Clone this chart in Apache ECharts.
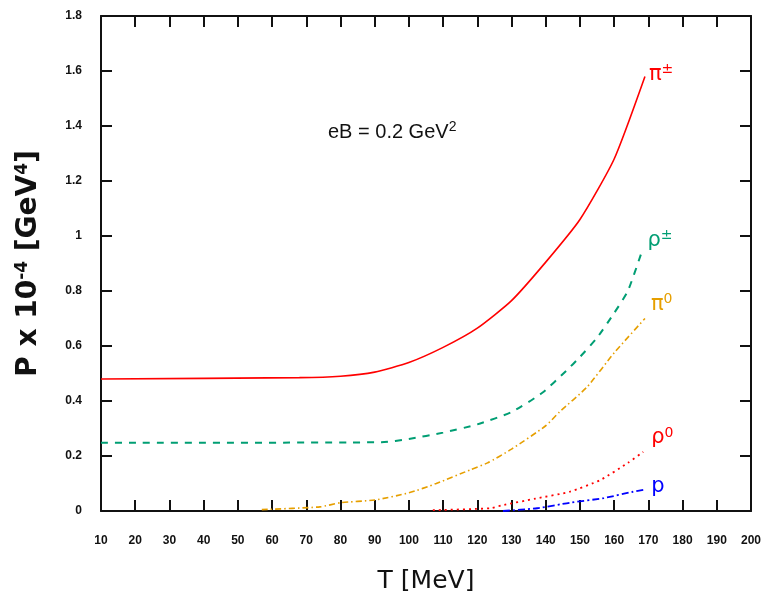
<!DOCTYPE html>
<html>
<head>
<meta charset="utf-8">
<script src="https://cdn.jsdelivr.net/npm/echarts@6/dist/echarts.min.js"></script>
<style>
  html, body { margin: 0; padding: 0; background: #fff; }
  #main { width: 768px; height: 599px; }
</style>
</head>
<body>
<div id="main"></div>
<script>
// T [MeV] and pressure values
var piCT  = [10, 68, 80, 90, 100, 110, 120, 130, 140, 150, 160, 169];
var piCP  = [0.48, 0.485, 0.49, 0.505, 0.54, 0.595, 0.665, 0.765, 0.905, 1.06, 1.28, 1.58];

var rhoCT = [10, 92, 100, 110, 120, 130, 139, 146, 150, 155, 160, 164, 168];
var rhoCP = [0.248, 0.25, 0.262, 0.285, 0.315, 0.36, 0.43, 0.51, 0.56, 0.63, 0.72, 0.80, 0.94];

var pi0T  = [57, 74, 80, 90, 100, 108, 118, 123, 130, 140, 144, 152, 160, 169];
var pi0P  = [0.005, 0.015, 0.03, 0.04, 0.066, 0.1, 0.15, 0.175, 0.225, 0.31, 0.36, 0.45, 0.575, 0.70];

var rho0T = [107, 124, 127, 137, 147, 156, 164, 168.5];
var rho0P = [0.003, 0.01, 0.02, 0.045, 0.07, 0.113, 0.175, 0.215];

var protT = [127.5, 137.5, 147, 157, 165.5, 168.5];
var protP = [0, 0.01, 0.03, 0.047, 0.07, 0.077];

function pairs(t, p) {
    return t.map(function (v, i) { return [v, p[i]]; });
}

var chartDom = document.getElementById('main');
var myChart = echarts.init(chartDom);

var tickFont = { fontFamily: 'Liberation Sans', fontWeight: 'bold', fontSize: 12, color: '#111' };
var supStyle = function (c) {
    return { fontFamily: 'DejaVu Sans', fontSize: 14, color: c, verticalAlign: 'top', padding: [0, 0, 10, 0] };
};
var lblStyle = function (c) {
    return { fontFamily: 'DejaVu Sans', fontSize: 21, color: c };
};

function endLbl(main, sup, color, off) {
    return {
        show: true,
        distance: 4,
        offset: off,
        formatter: '{m|' + main + '}{s|' + sup + '}',
        rich: { m: lblStyle(color), s: supStyle(color) }
    };
}

function axisBase(show) {
    return {
        type: 'value',
        axisLine: { show: true, onZero: false, lineStyle: { color: '#111', width: 2 } },
        axisTick: { show: true, inside: true, length: 11, lineStyle: { color: '#111', width: 2 } },
        splitLine: { show: false },
        axisLabel: Object.assign({ show: show }, tickFont)
    };
}

var xBottom = Object.assign(axisBase(true), {
    min: 10, max: 200, interval: 10, position: 'bottom',
    name: 'T [MeV]', nameLocation: 'middle', nameGap: 58,
    nameTextStyle: { fontFamily: 'DejaVu Sans', fontSize: 25, color: '#111' }
});
xBottom.axisLabel.margin = 24;
var xTop = Object.assign(axisBase(false), { min: 10, max: 200, interval: 10, position: 'top' });

var yLeft = Object.assign(axisBase(true), {
    min: 0, max: 1.8, interval: 0.2, position: 'left',
    name: 'P x 10{s|-4} [GeV{s|4}]', nameLocation: 'middle', nameGap: 58, nameRotate: 90,
    nameTextStyle: {
        fontFamily: 'DejaVu Sans', fontWeight: 'bold', fontSize: 28, color: '#111',
        rich: { s: { fontFamily: 'DejaVu Sans', fontWeight: 'bold', fontSize: 17, color: '#111', verticalAlign: 'top', padding: [0, 0, 12, 0] } }
    }
});
yLeft.axisLabel.margin = 19;
var yRight = Object.assign(axisBase(false), { min: 0, max: 1.8, interval: 0.2, position: 'right' });

var lineBase = { type: 'line', showSymbol: false, smooth: 0.2 };

var option = {
    animation: false,
    backgroundColor: '#fff',
    grid: { left: 101, right: 17, top: 16, bottom: 88, containLabel: false },
    xAxis: [xBottom, xTop],
    yAxis: [yLeft, yRight],
    graphic: [{
        type: 'text',
        left: 328, top: 120,
        style: {
            text: '{t|eB = 0.2 GeV}{s|2}',
            rich: {
                t: { fontFamily: 'Liberation Sans', fontSize: 20, fill: '#111' },
                s: { fontFamily: 'Liberation Sans', fontSize: 14, fill: '#111', verticalAlign: 'top', padding: [0, 0, 10, 0] }
            }
        }
    }],
    series: [
        Object.assign({}, lineBase, {
            name: 'pi+-', data: pairs(piCT, piCP),
            lineStyle: { color: '#ff0000', width: 1.6 },
            endLabel: endLbl('π', '±', '#ff0000', [0, -2])
        }),
        Object.assign({}, lineBase, {
            name: 'rho+-', data: pairs(rhoCT, rhoCP),
            lineStyle: { color: '#009e73', width: 2, type: [7, 7] },
            endLabel: endLbl('ρ', '±', '#009e73', [2, -12])
        }),
        Object.assign({}, lineBase, {
            name: 'pi0', data: pairs(pi0T, pi0P),
            lineStyle: { color: '#e69f00', width: 1.6, type: [6, 3, 1.5, 3] },
            endLabel: endLbl('π', '0', '#e69f00', [2, -14])
        }),
        Object.assign({}, lineBase, {
            name: 'rho0', data: pairs(rho0T, rho0P),
            lineStyle: { color: '#ff0000', width: 1.8, type: [2, 4] },
            endLabel: endLbl('ρ', '0', '#ff0000', [4, -14])
        }),
        Object.assign({}, lineBase, {
            name: 'p', data: pairs(protT, protP),
            lineStyle: { color: '#0000ff', width: 1.8, type: [7, 3, 2, 3] },
            endLabel: endLbl('p', '', '#0000ff', [4, -3])
        })
    ]
};

myChart.setOption(option);
</script>
</body>
</html>
